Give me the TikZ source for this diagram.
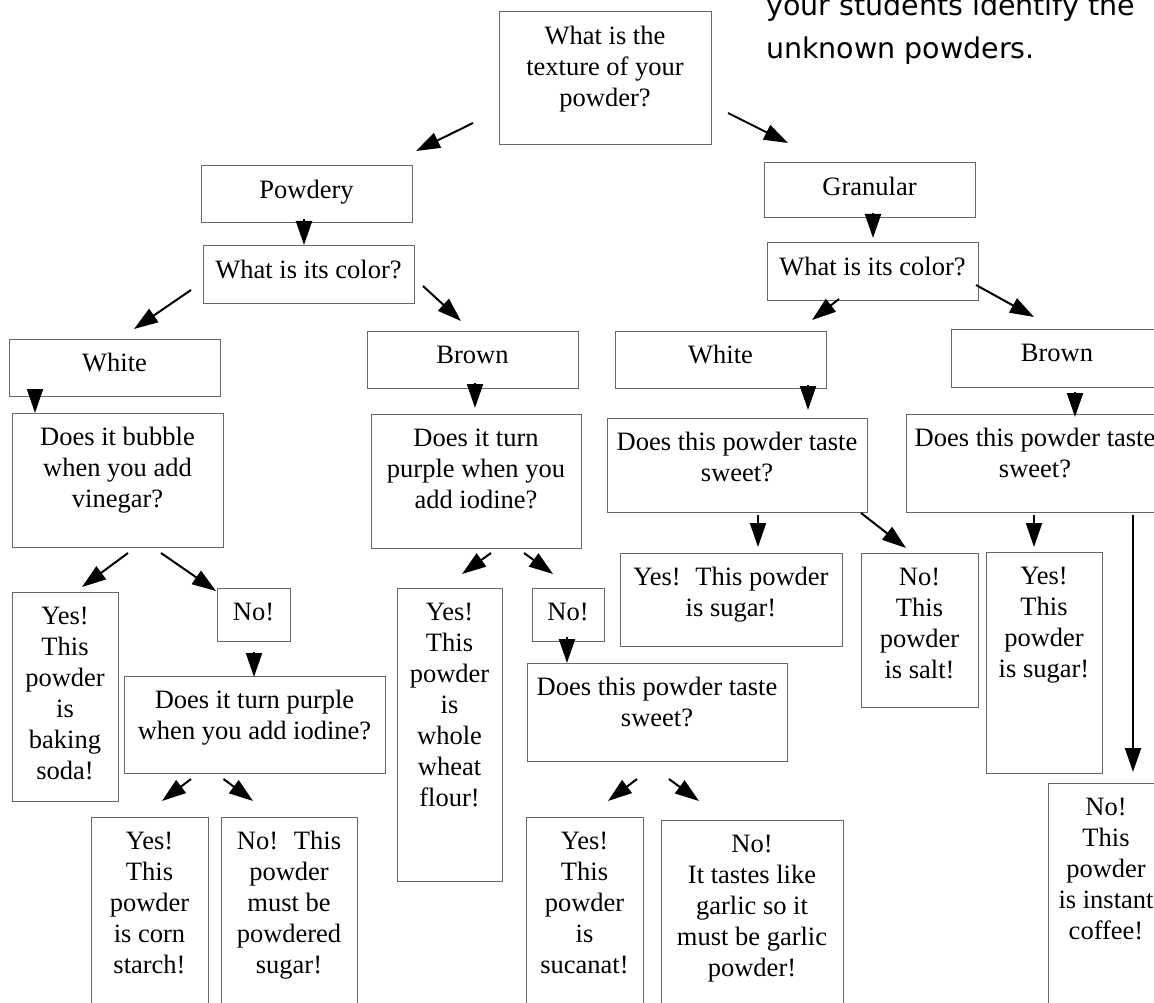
\documentclass[tikz,border=0pt]{standalone}
\usepackage{fontspec}
\setmainfont{Liberation Serif}
\newfontfamily\notefont{DejaVu Sans}
\usetikzlibrary{arrows.meta}
\tikzset{
 boxst/.style={draw=black!60, line width=1pt, inner sep=0pt, outer sep=0pt, rectangle, anchor=north west},
 txt/.style={inner sep=0pt, align=center, anchor=north, font=\fontsize{26.5}{31}\selectfont},
 arr/.style={line width=2pt, -{Triangle[length=24pt,width=16pt]}},
 note/.style={inner sep=0pt, align=left, anchor=north west, font=\notefont\fontsize{28.5}{43}\selectfont}
}
\newcommand\fstrut{\rule{0pt}{20pt}}
\newcommand\pwbox[6]{%
 \node[boxst, minimum width={(#4-#2)*1pt}, minimum height={(#5-#3)*1pt}] (#1) at (#2,#3) {};
 \node[txt] (#1t) at ([yshift=-12.5pt]#1.north) {\fstrut#6};
}
\newcommand\pwarrow[3]{%
 \coordinate (#1s) at (#2);
 \coordinate (#1e) at (#3);
 \draw[arr] (#1s) -- (#1e);
}
\begin{document}
\begin{tikzpicture}[x=1pt,y=-1pt]
\useasboundingbox (0,0) rectangle (1154,1003);
\fill[white] (0,0) rectangle (1154,1003);
\clip (0,0) rectangle (1154,1003);
\node[note] (note) at (766,-10) {\rule{0pt}{25pt}your students identify the\\unknown powders.};
% boxes
\pwbox{top}{499}{12}{711}{145}{What is the\\texture of your\\powder?}
\pwbox{powdery}{201}{166}{412}{223}{Powdery}
\pwbox{colorL}{203}{246}{414}{303}{What is its color?}
\pwbox{whiteL}{9}{339}{220}{396}{White}
\pwbox{brownL}{367}{331}{578}{388}{Brown}
\pwbox{bubble}{12}{413}{223}{547}{Does it bubble\\when you add\\vinegar?}
\pwbox{iodineB}{371}{414}{581}{548}{Does it turn\\purple when you\\add iodine?}
\pwbox{baking}{12}{592}{118}{801}{Yes!\\This\\powder\\is\\baking\\soda!}
\pwbox{noL}{217}{588}{290}{641}{No!}
\pwbox{iodineL}{124}{676}{385}{773}{Does it turn purple\\when you add iodine?}
\pwbox{corn}{91}{817}{208}{1012}{Yes!\\This\\powder\\is corn\\starch!}
\pwbox{powdered}{221}{817}{357}{1012}{No!\hspace{0.6em}This\\powder\\must be\\powdered\\sugar!}
\pwbox{wheat}{397}{588}{502}{881}{Yes!\\This\\powder\\is\\whole\\wheat\\flour!}
\pwbox{noB}{532}{588}{604}{641}{No!}
\pwbox{sweetB}{527}{663}{787}{761}{Does this powder taste\\sweet?}
\pwbox{sucanat}{526}{817}{643}{1012}{Yes!\\This\\powder\\is\\sucanat!}
\pwbox{garlic}{661}{820}{843}{1012}{No!\\It tastes like\\garlic so it\\must be garlic\\powder!}
\pwbox{granular}{764}{163}{975}{218}{Granular}
\pwbox{colorR}{767}{243}{978}{300}{What is its color?}
\pwbox{whiteR}{615}{331}{826}{388}{White}
\pwbox{brownR}{951}{329}{1163}{387}{Brown}
\pwbox{sweetM}{607}{418}{867}{512}{Does this powder taste\\sweet?}
\pwbox{sweetR}{906}{414}{1164}{512}{Does this powder taste\\sweet?}
\pwbox{sugarM}{620}{553}{842}{646}{Yes!\hspace{0.55em}This powder\\is sugar!}
\pwbox{salt}{861}{553}{978}{707}{No!\\This\\powder\\is salt!}
\pwbox{sugarR}{986}{552}{1102}{773}{Yes!\\This\\powder\\is sugar!}
\pwbox{coffee}{1048}{783}{1164}{1012}{No!\\This\\powder\\is instant\\coffee!}
% arrows
\pwarrow{a1}{473,123}{416,151}
\pwarrow{a2}{728,113}{788,143}
\pwarrow{a3}{304,219}{304,245}
\pwarrow{a4}{191,290}{134,329}
\pwarrow{a5}{423,286}{461,321}
\pwarrow{a6}{35,389}{35,413}
\pwarrow{a7}{475,383}{475,408}
\pwarrow{a8}{128,553}{82,587}
\pwarrow{a9}{161,553}{216,591}
\pwarrow{a10}{254,652}{254,677}
\pwarrow{a11}{191,779}{162,801}
\pwarrow{a12}{223.5,779}{253,801}
\pwarrow{a13}{491,553}{462,574}
\pwarrow{a14}{524,553}{553,574}
\pwarrow{a15}{567,637}{567,663}
\pwarrow{a16}{637,779}{608,801}
\pwarrow{a17}{669,779}{699,801}
\pwarrow{a18}{873,213}{873,238}
\pwarrow{a19}{839,299}{812,320}
\pwarrow{a20}{976,285}{1034,317}
\pwarrow{a21}{808,385}{808,410}
\pwarrow{a22}{1075,392}{1075,417}
\pwarrow{a23}{758,515}{758,547}
\pwarrow{a24}{861,513}{906,548}
\pwarrow{a25}{1034,515}{1034,547}
\pwarrow{a26}{1133,515}{1133,772}
\end{tikzpicture}
\end{document}
